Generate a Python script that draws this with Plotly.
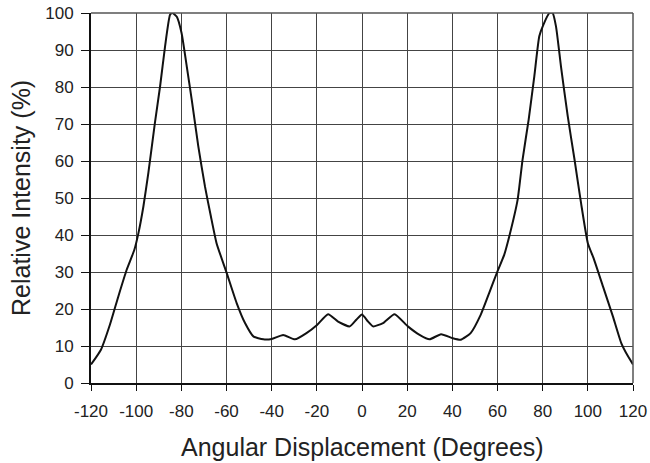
import plotly.graph_objects as go

angle = [-120, -115.6, -111.6, -107.9, -104.2, -100.8, -99, -96.8, -94.6, -91.7, -89.4, -87.2,
         -85, -84, -82, -79.9, -77.6, -75.4, -72.5, -69.5, -66.9, -64.4, -59.9, -55.5, -51.8,
         -48.1, -43.7, -40, -34.9, -29.7, -24.6, -19.9, -15, -10.6, -5.4, -2.5, 0, 2.7, 4.9,
         9.3, 14.4, 20.3, 25.5, 29.9, 35, 40.2, 43.7, 48.1, 52.6, 56.3, 60, 63, 65.2, 68.9,
         71.1, 73.8, 76.3, 78.5, 80.3, 83, 84.4, 85.9, 88.1, 91.1, 94.1, 97, 100, 102.5,
         106.7, 111.1, 114.8, 117.8, 120]
intensity = [5, 9.0, 15.8, 23.4, 30.6, 36, 40.5, 47.7, 56.8, 70.3, 80.2, 91,
             99.5, 100, 99, 94.6, 85.6, 76.6, 64, 53, 45, 37.8, 29.7, 21.6, 16.2,
             12.6, 11.8, 11.9, 13, 11.8, 13.5, 15.7, 18.6, 16.6, 15.3, 17.1, 18.5, 16.6, 15.3,
             16.2, 18.6, 15.3, 13, 11.8, 13.2, 12.1, 11.7, 13.5, 18.5, 24.3, 30.2, 34.7, 39.6, 49.5,
             60.4, 71.2, 82.9, 93.7, 96.8, 100, 100, 96.4, 85.6, 72.1, 60.4, 48.6, 37.8, 33.8,
             26.1, 18, 10.8, 7.2, 5]

x_ticks = list(range(-120, 121, 20))
y_ticks = list(range(0, 101, 10))
x_title = "Angular Displacement (Degrees)"
y_title = "Relative Intensity (%)"

fig = go.Figure(go.Scatter(
    x=angle, y=intensity, mode="lines",
    line=dict(color="#111111", width=2, shape="spline", smoothing=0.5),
    hoverinfo="skip", cliponaxis=True))

font = "Liberation Sans, Arial, sans-serif"
fig.update_layout(
    width=650, height=463,
    margin=dict(l=91, r=17, t=13, b=80),
    paper_bgcolor="white", plot_bgcolor="white",
    showlegend=False,
    font=dict(family=font, color="#222222"),
)
fig.update_xaxes(
    range=[-120, 120], tickvals=x_ticks, ticktext=[str(v) for v in x_ticks],
    showgrid=True, gridcolor="#444444", gridwidth=1,
    showline=True, linecolor="#111111", linewidth=2, mirror=False,
    ticks="outside", ticklen=6, tickcolor="#111111", tickwidth=1,
    tickfont=dict(size=17, family=font), ticklabelstandoff=6,
    ticklabeloverflow="allow",
    automargin=False, zeroline=False,
)
fig.update_yaxes(
    range=[0, 100], tickvals=y_ticks,
    showgrid=True, gridcolor="#444444", gridwidth=1,
    showline=True, linecolor="#111111", linewidth=2,
    ticks="outside", ticklen=8, tickcolor="#111111", tickwidth=1,
    tickfont=dict(size=17, family=font), ticklabelstandoff=4,
    ticklabeloverflow="allow",
    automargin=False, zeroline=False,
)
fig.add_annotation(text=x_title, xref="paper", yref="paper", x=0.5, y=0,
                   yshift=-64, yanchor="middle", xanchor="center", showarrow=False,
                   font=dict(size=25, family=font, color="#222222"))
fig.add_annotation(text=y_title, xref="paper", yref="paper", x=0, y=0.5,
                   xshift=-70, xanchor="center", yanchor="middle", textangle=-90,
                   showarrow=False, font=dict(size=25, family=font, color="#222222"))
# top and right frame lines
fig.add_shape(type="line", xref="paper", yref="paper", x0=0, x1=1, y0=1, y1=1,
              line=dict(color="#555555", width=1.5))
fig.add_shape(type="line", xref="paper", yref="paper", x0=1, x1=1, y0=0, y1=1,
              line=dict(color="#555555", width=1.5))

# remove the browser's default page margin so the 650x463 figure fills the window
page_js = ("document.body.style.margin='0';"
           "document.body.style.overflow='hidden';"
           "document.documentElement.style.overflow='hidden';")
fig.write_html("out.html", post_script=page_js, config={"displayModeBar": False})
